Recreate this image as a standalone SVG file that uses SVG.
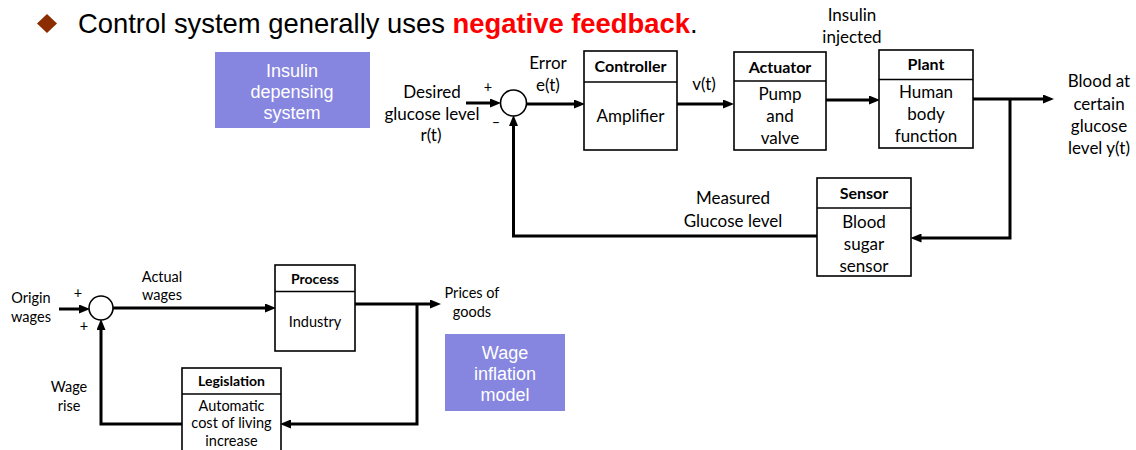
<svg xmlns="http://www.w3.org/2000/svg" width="1136" height="450" viewBox="0 0 1136 450">
<defs>
<marker id="ah" markerUnits="userSpaceOnUse" markerWidth="11" markerHeight="9" refX="2" refY="4.5" orient="auto">
<path d="M0,0 L11,4.5 L0,9 z" fill="#000"/>
</marker>
<style>
.bg{fill:#fff}
.box{fill:#fff;stroke:#000;stroke-width:1.6}
.sep{stroke:#000;stroke-width:1.4}
.con{fill:none;stroke:#000;stroke-width:3;marker-end:url(#ah)}
.sum{fill:#fff;stroke:#000;stroke-width:1.6}
.t{font-family:Lato,"Liberation Sans",sans-serif;font-size:17px;fill:#000;text-anchor:middle}
.h{font-family:Lato,"Liberation Sans",sans-serif;font-size:16px;font-weight:bold;fill:#000;text-anchor:middle}
.s{font-family:Lato,"Liberation Sans",sans-serif;font-size:14.5px;fill:#000;text-anchor:middle}
.sh{font-family:Lato,"Liberation Sans",sans-serif;font-size:14px;font-weight:bold;fill:#000;text-anchor:middle}
.pb{fill:#8686E0}
.pt{font-family:"Liberation Sans",Arial,sans-serif;font-size:18px;fill:#fff;text-anchor:middle}
</style>
</defs>
<rect class="bg" x="0" y="0" width="1136" height="450"/>

<g id="title">
<path d="M47,14 L57,23.5 L47,33 L37,23.5 z" fill="#8B2D00"/>
<text x="78" y="33" font-family="Liberation Sans,Arial,sans-serif" font-size="27.4" fill="#000">Control system generally uses <tspan fill="#FF0000" font-weight="bold">negative feedback</tspan>.</text>
</g>

<g id="insulin-label">
<rect class="pb" x="215" y="52" width="155" height="76"/>
<text class="pt" x="292" y="77">Insulin</text>
<text class="pt" x="292" y="98">depensing</text>
<text class="pt" x="292" y="119">system</text>
</g>

<g id="wage-label">
<rect class="pb" x="445" y="334" width="120" height="77"/>
<text class="pt" x="505" y="359">Wage</text>
<text class="pt" x="505" y="380">inflation</text>
<text class="pt" x="505" y="401">model</text>
</g>

<g id="connectors">
<path class="con" d="M466,103 H492"/>
<path class="con" d="M526.5,104 H576"/>
<path class="con" d="M677,104 H725"/>
<path class="con" d="M826,100 H871"/>
<path class="con" d="M973,99 H1045"/>
<path class="con" d="M1010,99 V238 H919.5"/>
<path class="con" d="M817,236 H513.5 V124"/>
<path class="con" d="M59,309 H81"/>
<path class="con" d="M113,308 H267"/>
<path class="con" d="M355,304 H432"/>
<path class="con" d="M417,304 V424 H289"/>
<path class="con" d="M182,424 H101 V328"/>
</g>

<g id="sum1">
<circle class="sum" cx="513.5" cy="103" r="13"/>
<text class="s" x="488" y="92">+</text>
<text class="s" x="496" y="127" font-size="17">–</text>
</g>

<g id="sum2">
<circle class="sum" cx="101" cy="308" r="12"/>
<text class="s" x="78" y="298">+</text>
<text class="s" x="84" y="331">+</text>
</g>

<g id="controller">
<rect class="box" x="584" y="51" width="93" height="99"/>
<line class="sep" x1="584" y1="82" x2="677" y2="82"/>
<text class="h" x="630.5" y="72">Controller</text>
<text class="t" x="630.5" y="122">Amplifier</text>
</g>

<g id="actuator">
<rect class="box" x="734" y="52" width="92" height="98"/>
<line class="sep" x1="734" y1="81" x2="826" y2="81"/>
<text class="h" x="780" y="73">Actuator</text>
<text class="t" x="780" y="100">Pump</text>
<text class="t" x="780" y="122">and</text>
<text class="t" x="780" y="144">valve</text>
</g>

<g id="plant">
<rect class="box" x="879" y="50" width="94" height="98"/>
<line class="sep" x1="879" y1="79.5" x2="973" y2="79.5"/>
<text class="h" x="926" y="70">Plant</text>
<text class="t" x="926" y="98">Human</text>
<text class="t" x="926" y="120">body</text>
<text class="t" x="926" y="142">function</text>
</g>

<g id="sensor">
<rect class="box" x="817" y="178" width="94" height="98"/>
<line class="sep" x1="817" y1="208" x2="911" y2="208"/>
<text class="h" x="864" y="199">Sensor</text>
<text class="t" x="864" y="228">Blood</text>
<text class="t" x="864" y="250">sugar</text>
<text class="t" x="864" y="272">sensor</text>
</g>

<g id="process">
<rect class="box" x="275" y="265" width="80" height="86"/>
<line class="sep" x1="275" y1="291.5" x2="355" y2="291.5"/>
<text class="sh" x="315" y="284">Process</text>
<text class="s" x="315" y="327">Industry</text>
</g>

<g id="legislation">
<rect class="box" x="182" y="368" width="99" height="90"/>
<line class="sep" x1="182" y1="394" x2="281" y2="394"/>
<text class="sh" x="231.5" y="386">Legislation</text>
<text class="s" x="231.5" y="411">Automatic</text>
<text class="s" x="231.5" y="428">cost of living</text>
<text class="s" x="231.5" y="446">increase</text>
</g>

<g id="labels">
<text class="t" x="432" y="98">Desired</text>
<text class="t" x="432" y="120">glucose level</text>
<text class="t" x="431" y="141">r(t)</text>
<text class="t" x="548" y="69">Error</text>
<text class="t" x="548" y="91">e(t)</text>
<text class="t" x="704" y="90">v(t)</text>
<text class="t" x="852" y="21">Insulin</text>
<text class="t" x="852" y="43">injected</text>
<text class="t" x="1099" y="87">Blood at</text>
<text class="t" x="1099" y="110">certain</text>
<text class="t" x="1099" y="132">glucose</text>
<text class="t" x="1099" y="154">level y(t)</text>
<text class="t" x="733" y="204">Measured</text>
<text class="t" x="733" y="227">Glucose level</text>
<text class="s" x="31" y="303">Origin</text>
<text class="s" x="31" y="322">wages</text>
<text class="s" x="162" y="282">Actual</text>
<text class="s" x="162" y="300">wages</text>
<text class="s" x="472" y="298">Prices of</text>
<text class="s" x="472" y="317">goods</text>
<text class="s" x="69" y="392">Wage</text>
<text class="s" x="69" y="411">rise</text>
</g>
</svg>
